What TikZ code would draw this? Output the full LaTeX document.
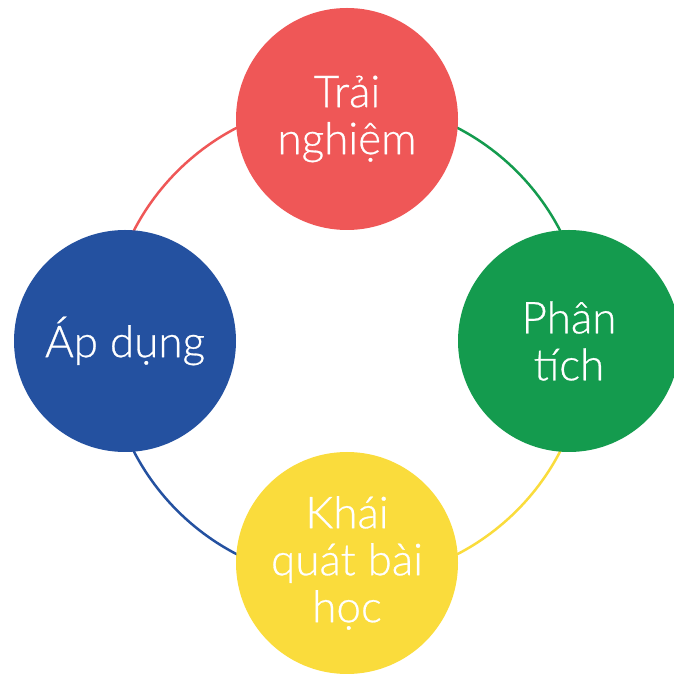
\documentclass[tikz,border=0pt]{standalone}
\usepackage{fontspec}
\setmainfont{Lato Light}[FakeBold=0.6]
\definecolor{cred}{RGB}{239,87,87}
\definecolor{cgreen}{RGB}{20,155,78}
\definecolor{cyellow}{RGB}{250,220,60}
\definecolor{cblue}{RGB}{36,81,160}
\begin{document}
\begin{tikzpicture}[x=1pt,y=1pt,
  bubble/.style={circle,minimum size=222pt,inner sep=0pt,text=white,align=center,
    font=\fontsize{44}{47}\selectfont},
  ring/.style={line width=2.5pt}]
\useasboundingbox (0,0) rectangle (674,674);
\clip (0,0) rectangle (674,674);
\coordinate (c) at (347,333);
\coordinate (pt) at (347,555);
\coordinate (pr) at (569,333);
\coordinate (pb) at (347,111);
\coordinate (pl) at (125,333);
\draw[ring,cred] (c) ++(90:240) arc[start angle=90,end angle=180,radius=240pt];
\draw[ring,cgreen] (c) ++(90:240) arc[start angle=90,end angle=0,radius=240pt];
\draw[ring,cyellow] (c) ++(0:240) arc[start angle=0,end angle=-90,radius=240pt];
\draw[ring,cblue] (c) ++(270:240) arc[start angle=270,end angle=180,radius=240pt];
\node[bubble,fill=cred] (top) at (pt) {Trải\\nghiệm};
\node[bubble,fill=cgreen] (right) at (pr) {Phân\\tích};
\node[bubble,fill=cyellow] (bottom) at (pb) {Khái\\quát bài\\học};
\node[bubble,fill=cblue] (left) at (pl) {Áp dụng};
\end{tikzpicture}
\end{document}
